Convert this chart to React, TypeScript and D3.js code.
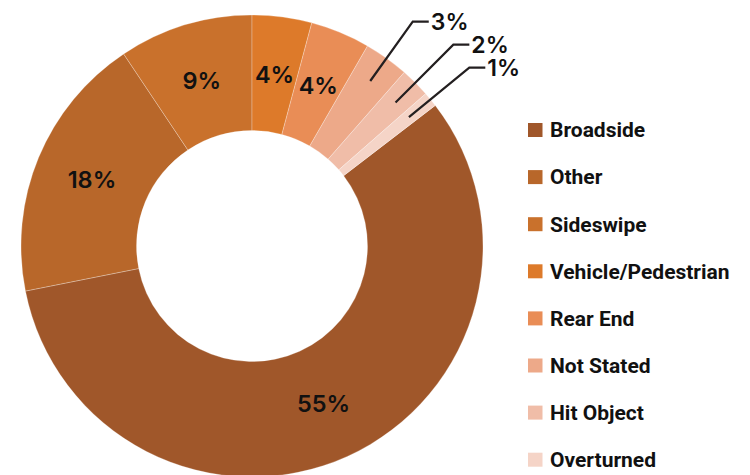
import React, { useEffect } from "react";
import * as d3 from "d3";

const categories = ["Broadside", "Other", "Sideswipe", "Vehicle/Pedestrian", "Rear End", "Not Stated", "Hit Object", "Overturned"];
const values = [55, 18, 9, 4, 4, 3, 2, 1];
const colors = ["#A0572A", "#B8672A", "#C9712C", "#DD7A2A", "#E98D56", "#EDA989", "#F0BDA8", "#F5D4C7"];
// slices with leader-line labels (outside)
const outsideLabels = ["Not Stated", "Hit Object", "Overturned"];

const W = 750;
const H = 475;
const cx = 252;
const cy = 246;
const outerR = 231;
const innerR = 115.5;

export default function App() {
  useEffect(() => {
    document.body.style.margin = "0";
  }, []);

  const total = d3.sum(values);
  // Chart starts so that the first slice after the three biggest begins at 12 o'clock
  const offset = (2 * Math.PI * d3.sum(values.slice(3))) / total;
  const data = categories.map((c, i) => ({ name: c, value: values[i], color: colors[i] }));
  const pie = d3
    .pie<any>()
    .sort(null)
    .value((d: any) => d.value)
    .startAngle(offset)
    .endAngle(offset + 2 * Math.PI);
  const arcs = pie(data);
  const arc = d3.arc<any>().innerRadius(innerR).outerRadius(outerR);

  const labelFont = "Inter, Lato, sans-serif";
  const legendFont = "Roboto, 'Noto Sans', sans-serif";

  // outside labels: leader line points, spaced so texts don't collide
  const outside = arcs
    .filter((a: any) => outsideLabels.includes(a.data.name))
    .sort((a: any, b: any) => (a.startAngle + a.endAngle) - (b.startAngle + b.endAngle));
  const r1 = 203;
  const r2 = 276;
  const gap = 23;
  let prevY = -Infinity;
  const outsidePos = outside.map((a: any) => {
    const mid = (a.startAngle + a.endAngle) / 2;
    let y2 = -r2 * Math.cos(mid);
    if (prevY !== -Infinity) y2 = prevY + gap;
    prevY = y2;
    const x2 = -y2 * Math.tan(mid);
    return {
      a,
      x1: r1 * Math.sin(mid),
      y1: -r1 * Math.cos(mid),
      x2,
      y2,
    };
  });

  const legendX = 528;
  const legendY0 = 123;
  const legendStep = 47.1;

  return (
    <svg width={W} height={H} style={{ display: "block" }}>
      <g transform={`translate(${cx},${cy})`}>
        {arcs.map((a: any) => (
          <path key={a.data.name} d={arc(a) as string} fill={a.data.color} stroke="#ffffff" strokeOpacity={0.45} strokeWidth={0.6} />
        ))}
        {arcs
          .filter((a: any) => !outsideLabels.includes(a.data.name))
          .map((a: any) => {
            const [x, y] = arc.centroid(a);
            return (
              <text key={"l" + a.data.name} x={x} y={y} dy="0.36em" textAnchor="middle" fontFamily={labelFont} fontSize={23.5} fontWeight={600} fill="#111">
                {`${a.data.value}%`}
              </text>
            );
          })}
        {outsidePos.map((p: any) => {
          const x3 = p.x2 + 16;
          return (
            <g key={"o" + p.a.data.name}>
              <polyline points={`${p.x1},${p.y1} ${p.x2},${p.y2} ${x3},${p.y2}`} fill="none" stroke="#231f20" strokeWidth={2.2} />
              <text x={x3 + 2} y={p.y2} dy="0.36em" fontFamily={labelFont} fontSize={23} fontWeight={600} fill="#111">
                {`${p.a.data.value}%`}
              </text>
            </g>
          );
        })}
      </g>
      <g>
        {data.map((d, i) => (
          <g key={d.name} transform={`translate(${legendX},${legendY0 + i * legendStep})`}>
            <rect x={0} y={0} width={14.5} height={14} fill={d.color} />
            <text x={22} y={14.3} fontFamily={legendFont} fontSize={21} fontWeight={700} fill="#111">
              {d.name}
            </text>
          </g>
        ))}
      </g>
    </svg>
  );
}
